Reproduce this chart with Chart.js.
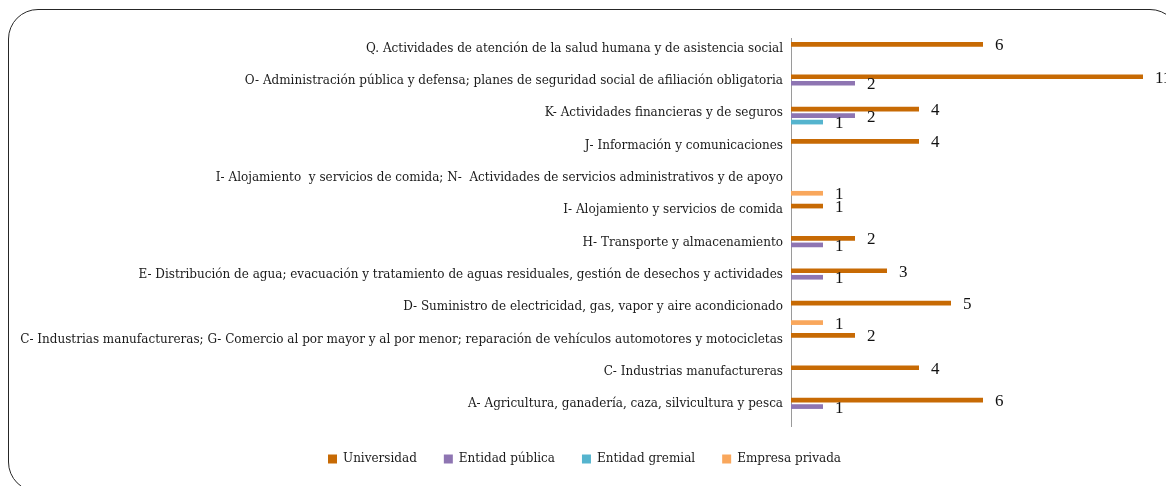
<!DOCTYPE html>
<html>
<head>
<meta charset="utf-8">
<script src="https://cdn.jsdelivr.net/npm/chart.js@4.4.1/dist/chart.umd.min.js"></script>
<style>
  html, body { margin: 0; padding: 0; overflow: hidden; background: #fff; }
  #wrap { position: absolute; left: 0; top: 0; width: 1166px; height: 486px; }
  #frame {
    position: absolute; left: 8px; top: 9px; width: 1172px; height: 483px;
    box-sizing: border-box; border: 1.6px solid #262626; border-radius: 30px;
  }
</style>
</head>
<body>
<div id="wrap">
  <div id="frame"></div>
  <canvas id="sector-chart" width="1166" height="486"></canvas>
</div>
<script>
// categories from top to bottom
var categories = [
  'Q. Actividades de atención de la salud humana y de asistencia social',
  'O- Administración pública y defensa; planes de seguridad social de afiliación obligatoria',
  'K- Actividades financieras y de seguros',
  'J- Información y comunicaciones',
  'I- Alojamiento  y servicios de comida; N-  Actividades de servicios administrativos y de apoyo',
  'I- Alojamiento y servicios de comida',
  'H- Transporte y almacenamiento',
  'E- Distribución de agua; evacuación y tratamiento de aguas residuales, gestión de desechos y actividades',
  'D- Suministro de electricidad, gas, vapor y aire acondicionado',
  'C- Industrias manufactureras; G- Comercio al por mayor y al por menor; reparación de vehículos automotores y motocicletas',
  'C- Industrias manufactureras',
  'A- Agricultura, ganadería, caza, silvicultura y pesca'
];
var universidad    = [6, 11, 4, 4, null, 1, 2, 3, 5, 2, 4, 6];
var entidadPublica = [null, 2, 2, null, null, null, 1, 1, null, null, null, 1];
var entidadGremial = [null, null, 1, null, null, null, null, null, null, null, null, null];
var empresaPrivada = [null, null, null, null, 1, null, null, null, 1, null, null, null];

var seriesNames = ['Universidad', 'Entidad pública', 'Entidad gremial', 'Empresa privada'];
var seriesColors = ['#C76A04', '#8E75B2', '#55B4CE', '#F9A75C'];

var serif = "'Liberation Serif', 'Times New Roman', serif";
var labelFont = "'DejaVu Serif', serif";

// draws the value next to the end of each bar
var valueLabels = {
  id: 'valueLabels',
  afterDatasetsDraw: function(chart) {
    var c = chart.ctx;
    c.save();
    c.font = '17px ' + serif;
    c.fillStyle = '#111';
    c.textAlign = 'left';
    c.textBaseline = 'middle';
    chart.data.datasets.forEach(function(ds, i) {
      var meta = chart.getDatasetMeta(i);
      meta.data.forEach(function(bar, j) {
        var v = ds.data[j];
        if (v === null || v === undefined) return;
        c.fillText(String(v), bar.x + 12, bar.y + 1.5);
      });
    });
    c.restore();
  }
};

// legend sits a little right of the canvas centre in the original
var legendShift = {
  id: 'legendShift',
  afterLayout: function(chart) {
    chart.legend.left += 13;
    chart.legend.right += 13;
  }
};

var datasets = [universidad, entidadPublica, entidadGremial, empresaPrivada].map(function(vals, i) {
  return {
    label: seriesNames[i],
    data: vals,
    backgroundColor: seriesColors[i],
    borderWidth: 0,
    categoryPercentage: 0.805,
    barPercentage: 0.72
  };
});

var ctx = document.getElementById('sector-chart');
var myChart = new Chart(ctx, {
  type: 'bar',
  data: { labels: categories, datasets: datasets },
  options: {
    indexAxis: 'y',
    responsive: false,
    animation: false,
    layout: { padding: { top: 38, right: 23, bottom: 11, left: 0 } },
    scales: {
      x: { display: false, min: 0, max: 11 },
      y: {
        afterFit: function(scale) { scale.width = 791; },
        grid: { display: false, drawTicks: false },
        border: { display: true, color: '#9a9a9a', width: 1 },
        ticks: {
          autoSkip: false,
          padding: 8,
          labelOffset: -5.5,
          color: '#1a1a1a',
          font: { family: labelFont, size: 12 }
        }
      }
    },
    plugins: {
      legend: {
        position: 'bottom',
        labels: {
          boxWidth: 9,
          boxHeight: 9,
          padding: 27,
          color: '#1a1a1a',
          font: { family: labelFont, size: 12 }
        }
      },
      tooltip: { enabled: false }
    }
  },
  plugins: [valueLabels, legendShift]
});
</script>
</body>
</html>
